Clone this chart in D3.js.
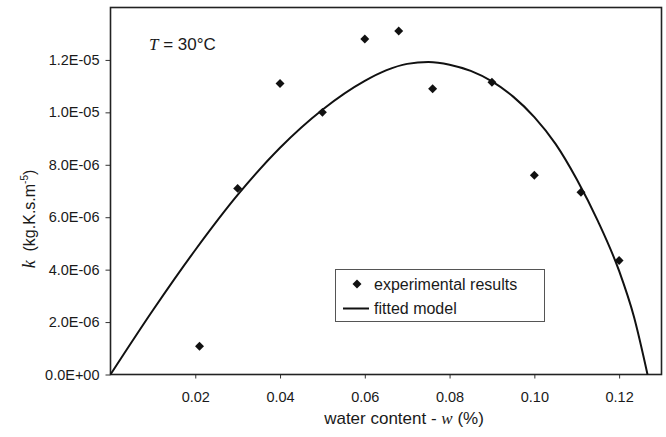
<!DOCTYPE html>
<html>
<head>
<meta charset="utf-8">
<script src="https://cdn.jsdelivr.net/npm/d3@7"></script>
<style>
  body { margin: 0; background: #fff; }
  text { font-family: "Liberation Sans", Arial, sans-serif; fill: #1a1a1a; }
</style>
</head>
<body>
<div id="chart"></div>
<script>
// experimental results (water content w, k)
const expW = [0.021, 0.030, 0.040, 0.050, 0.060, 0.068, 0.076, 0.090, 0.100, 0.111, 0.120];
const expK = [1.08e-6, 7.1e-6, 1.11e-5, 1.0e-5, 1.28e-5, 1.31e-5, 1.09e-5, 1.115e-5, 7.6e-6, 6.95e-6, 4.35e-6];

// fitted model
const fitW = [0, 0.010, 0.020, 0.030, 0.040, 0.050, 0.060, 0.065, 0.070, 0.075, 0.080, 0.085, 0.090, 0.095, 0.100, 0.105, 0.110, 0.115, 0.120, 0.1235, 0.1267];
const fitK = [0, 2.45e-6, 4.75e-6, 6.85e-6, 8.65e-6, 1.01e-5, 1.12e-5, 1.16e-5, 1.185e-5, 1.192e-5, 1.182e-5, 1.158e-5, 1.118e-5, 1.06e-5, 9.82e-6, 8.8e-6, 7.45e-6, 5.85e-6, 3.95e-6, 2.2e-6, 0];

const xTicks = [0.02, 0.04, 0.06, 0.08, 0.10, 0.12];
const yTicks = [0, 2e-6, 4e-6, 6e-6, 8e-6, 1e-5, 1.2e-5];
const yTickLabels = ["0.0E+00", "2.0E-06", "4.0E-06", "6.0E-06", "8.0E-06", "1.0E-05", "1.2E-05"];

const width = 666, height = 437;
const plotL = 110.5, plotR = 661.5, plotT = 7.5, plotB = 374.5;

const svg = d3.select("#chart").append("svg")
    .attr("width", width)
    .attr("height", height);

const x = d3.scaleLinear().domain([0, 0.13]).range([plotL, plotR]);
const y = d3.scaleLinear().domain([0, 1.4e-5]).range([plotB, plotT]);

// axes
svg.append("g")
    .attr("transform", `translate(0,${plotB})`)
    .call(d3.axisBottom(x).tickValues(xTicks).tickFormat(d3.format(".2f")).tickSize(4).tickPadding(13))
    .call(g => g.select(".domain").remove())
    .call(g => g.selectAll("line").attr("stroke", "#333"))
    .call(g => g.selectAll("text").attr("font-size", 14.5).attr("fill", "#1a1a1a"));

svg.append("g")
    .attr("transform", `translate(${plotL},0)`)
    .call(d3.axisLeft(y).tickValues(yTicks).tickFormat((d, i) => yTickLabels[i]).tickSize(5).tickPadding(6))
    .call(g => g.select(".domain").remove())
    .call(g => g.selectAll("line").attr("stroke", "#333"))
    .call(g => g.selectAll("text").attr("font-size", 14.5).attr("fill", "#1a1a1a"));

// frame
svg.append("rect")
    .attr("x", plotL).attr("y", plotT)
    .attr("width", plotR - plotL).attr("height", plotB - plotT)
    .attr("fill", "none").attr("stroke", "#222").attr("stroke-width", 1.6);

// fitted curve
const fit = fitW.map((w, i) => [w, fitK[i]]);
svg.append("path")
    .datum(fit)
    .attr("fill", "none")
    .attr("stroke", "#111")
    .attr("stroke-width", 2)
    .attr("d", d3.line().x(d => x(d[0])).y(d => y(d[1])).curve(d3.curveMonotoneX));

// experimental points
const diamond = d3.symbol().type(d3.symbolSquare).size(40);
svg.selectAll(".pt")
    .data(expW.map((w, i) => [w, expK[i]]))
    .join("path")
    .attr("class", "pt")
    .attr("d", diamond)
    .attr("fill", "#111")
    .attr("transform", d => `translate(${x(d[0])},${y(d[1])}) rotate(45)`);

// T label
const tLab = svg.append("text").attr("x", 149).attr("y", 50).attr("font-size", 17);
tLab.append("tspan").attr("font-family", "'Liberation Serif', 'Times New Roman', serif").attr("font-style", "italic").text("T");
tLab.append("tspan").text(" = 30°C");

// legend
const lg = svg.append("g");
lg.append("rect")
    .attr("x", 335.5).attr("y", 269.5).attr("width", 209).attr("height", 52)
    .attr("fill", "#fff").attr("stroke", "#555").attr("stroke-width", 1);
lg.append("path").attr("d", diamond).attr("fill", "#111")
    .attr("transform", "translate(357,284) rotate(45)");
lg.append("text").attr("x", 374).attr("y", 290).attr("font-size", 16).text("experimental results");
lg.append("line").attr("x1", 343).attr("x2", 369).attr("y1", 308.5).attr("y2", 308.5)
    .attr("stroke", "#111").attr("stroke-width", 2);
lg.append("text").attr("x", 374).attr("y", 314).attr("font-size", 16).text("fitted model");

// x title
const xt = svg.append("text").attr("x", 404).attr("y", 424).attr("text-anchor", "middle").attr("font-size", 17);
xt.append("tspan").text("water content - ");
xt.append("tspan").attr("font-family", "'Liberation Serif', 'Times New Roman', serif").attr("font-style", "italic").text("w");
xt.append("tspan").text(" (%)");

// y title
const yt = svg.append("text")
    .attr("transform", "translate(35,219) rotate(-90)")
    .attr("text-anchor", "middle").attr("font-size", 16);
yt.append("tspan").attr("font-family", "'Liberation Serif', 'Times New Roman', serif").attr("font-style", "italic").attr("font-size", 18).text("k");
yt.append("tspan").attr("xml:space", "preserve").text("  (kg.K.s.m");
yt.append("tspan").attr("font-size", 10).attr("dy", -7).text("-5");
yt.append("tspan").attr("dy", 7).text(")");
</script>
</body>
</html>
